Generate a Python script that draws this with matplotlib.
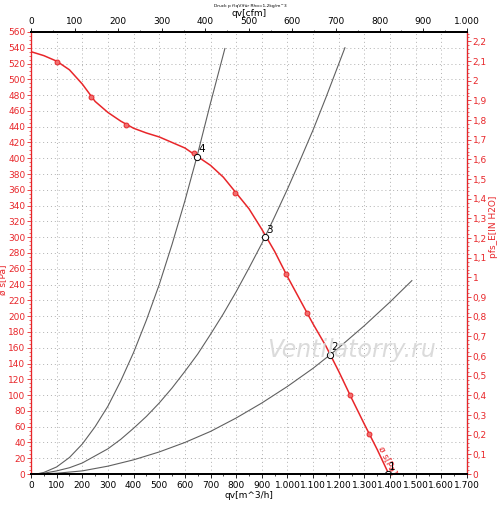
import numpy as np
import matplotlib
matplotlib.use("Agg")
import matplotlib.pyplot as plt
from matplotlib.ticker import MultipleLocator, FuncFormatter

# fan curve (m^3/h, Pa)
fan_q = [0, 50, 100, 150, 200, 250, 300, 350, 400, 450, 500, 550, 600, 650, 700, 750,
         800, 850, 900, 950, 1000, 1050, 1100, 1150, 1200, 1250, 1300, 1350, 1395]
fan_p = [535, 530, 523, 512, 494, 472, 458, 447, 438, 432, 427, 420, 413, 402, 391, 376,
         356, 336, 310, 282, 250, 220, 190, 162, 130, 96, 63, 31, 0]

# measured points on the fan curve
meas_q = [101, 234, 370, 636, 795, 994, 1076, 1244, 1318]
meas_p = [522, 478, 442, 407, 356, 253, 204, 100, 51]

# system curves
sys_a_q = [20, 50, 100, 150, 200, 250, 300, 350, 400, 450, 500, 550, 600, 647, 700, 756]
sys_a_p = [0, 2, 9, 21, 38, 60, 86, 118, 154, 195, 240, 291, 346, 402, 470, 539]
sys_b_q = [20, 50, 100, 150, 200, 250, 300, 350, 400, 450, 500, 550, 600, 650, 700, 750,
           800, 850, 900, 950, 1000, 1050, 1100, 1150, 1224]
sys_b_p = [0, 1, 4, 8, 14, 23, 32, 44, 58, 73, 90, 109, 130, 152, 177, 203,
           231, 261, 292, 326, 361, 398, 436, 477, 540]
sys_c_q = [20, 100, 200, 300, 400, 500, 600, 700, 800, 900, 1000, 1100, 1166, 1200, 1300, 1400, 1485]
sys_c_p = [0, 1, 4, 10, 18, 28, 40, 54, 71, 90, 111, 134, 151, 160, 188, 218, 245]

# operating points
op_labels = ["4", "3", "2", "1"]
op_q = [647, 912, 1166, 1392]
op_p = [402, 300, 151, 0]

PA_PER_INH2O = 249.09
M3H_PER_CFM = 1.699
red = "#e8262a"

fig = plt.figure(figsize=(5.0, 5.07), dpi=100)
ax = fig.add_axes([0.062, 0.065, 0.872, 0.872])

ax.grid(True, color="#b0b0b0", linestyle=(0, (1, 3)), linewidth=0.7)
ax.set_axisbelow(True)

for q, p in [(sys_a_q, sys_a_p), (sys_b_q, sys_b_p), (sys_c_q, sys_c_p)]:
    ax.plot(q, p, color="#606060", linewidth=0.8)

ax.plot(fan_q, fan_p, color=red, linewidth=1.1)
ax.plot(meas_q, meas_p, "o", markersize=3.5, markerfacecolor="#f07070",
        markeredgecolor=red, markeredgewidth=0.7, linestyle="none")

ax.plot(op_q, op_p, "o", markersize=4.5, markerfacecolor="white",
        markeredgecolor="black", markeredgewidth=0.7, linestyle="none", zorder=5)
for lab, q, p in zip(op_labels, op_q, op_p):
    ax.text(q + 4, p + 3, lab, fontsize=7.5, color="black", ha="left", va="bottom", zorder=6)

ax.text(1392, 18, "\u00f8 s[Pa]", color=red, fontsize=6.5, rotation=-64,
        ha="center", va="center", rotation_mode="anchor")

ax.text(1250, 157, "Ventilatorry.ru", fontsize=17, style="italic", color="#d8d8d8",
        ha="center", va="center", alpha=0.9, zorder=7)

ax.set_xlim(0, 1700)
ax.set_ylim(0, 560)
ax.xaxis.set_major_locator(MultipleLocator(100))
ax.xaxis.set_minor_locator(MultipleLocator(50))
ax.yaxis.set_major_locator(MultipleLocator(20))
ax.yaxis.set_minor_locator(MultipleLocator(5))
ax.xaxis.set_major_formatter(FuncFormatter(lambda v, _: f"{int(round(v)):,}".replace(",", ".")))
ax.tick_params(axis="x", labelsize=6.5, length=3, width=0.6, pad=2)
ax.tick_params(axis="x", which="minor", length=1.5, width=0.5)
ax.tick_params(axis="y", colors=red, labelsize=6.5, length=3, width=0.6, pad=1)
ax.tick_params(axis="y", which="minor", colors=red, length=1.5, width=0.5)
ax.set_xlabel("qv[m^3/h]", fontsize=6.5, labelpad=1)
ax.set_ylabel("\u00f8 s[Pa]", fontsize=6.5, color=red)
ax.yaxis.set_label_coords(-0.054, 0.44)
ax.spines["left"].set_color(red)
ax.spines["bottom"].set_linewidth(1.4)
ax.spines["top"].set_linewidth(1.4)

# right axis in inch H2O
axr = ax.twinx()
axr.set_ylim(0, 560 / PA_PER_INH2O)
axr.yaxis.set_major_locator(MultipleLocator(0.1))
axr.yaxis.set_minor_locator(MultipleLocator(0.02))
axr.yaxis.set_major_formatter(FuncFormatter(lambda v, _: f"{round(v, 1):g}".replace(".", ",")))
axr.tick_params(axis="y", colors=red, labelsize=6.5, length=3, width=0.6, pad=1)
axr.tick_params(axis="y", which="minor", colors=red, length=1.5, width=0.5)
axr.set_ylabel("pfs_E[IN H2O]", fontsize=6.5, color=red)
axr.yaxis.set_label_coords(1.05, 0.56)
axr.spines["right"].set_color(red)
axr.spines["left"].set_color(red)
axr.spines["top"].set_linewidth(1.4)
axr.spines["bottom"].set_linewidth(1.4)

# top axis in cfm
axt = ax.twiny()
axt.set_xlim(0, 1700 / M3H_PER_CFM)
axt.xaxis.set_major_locator(MultipleLocator(100))
axt.xaxis.set_minor_locator(MultipleLocator(50))
axt.xaxis.set_major_formatter(FuncFormatter(lambda v, _: f"{int(round(v)):,}".replace(",", ".")))
axt.tick_params(axis="x", labelsize=6.5, length=3, width=0.6, pad=1)
axt.tick_params(axis="x", which="minor", length=1.5, width=0.5)
axt.set_xlabel("qv[cfm]", fontsize=6.5, labelpad=1)
axt.spines["left"].set_color(red)
axt.spines["right"].set_color(red)
axt.spines["top"].set_linewidth(1.4)
axt.spines["bottom"].set_linewidth(1.4)

fig.text(0.5, 0.992, "Druck p f(qV)f\u00fcr Rho=1,2kg/m^3", fontsize=3.2,
         ha="center", va="top")

fig.savefig("out.png", dpi=100)
